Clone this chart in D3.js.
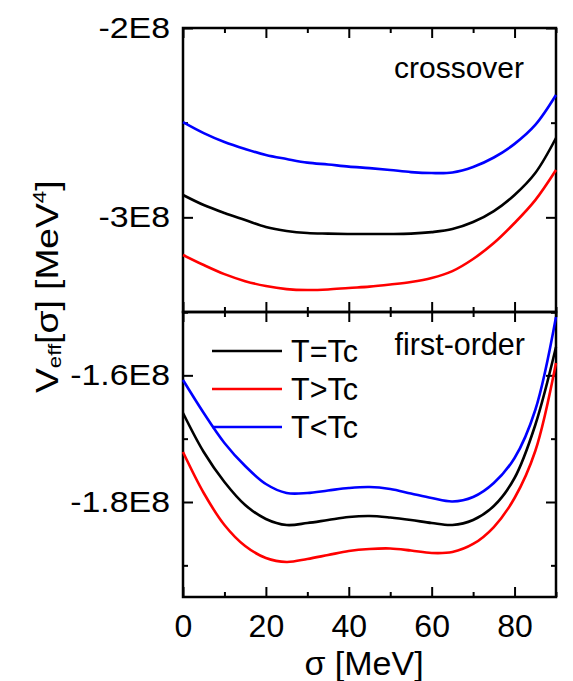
<!DOCTYPE html>
<html><head><meta charset="utf-8">
<script src="https://cdn.jsdelivr.net/npm/d3@7"></script>
<style>
html,body{margin:0;padding:0;background:#fff;}
svg text{font-family:"Liberation Sans",Arial,sans-serif;fill:#000;}
</style></head>
<body><svg id="c" width="573" height="681"></svg>
<script>
// ---- data (sigma in MeV, V_eff in MeV^4) ----
const sigma = [0,5,10,15,20,25,30,35,40,45,50,55,60,65,70,75,80,85,90];
const seriesNames = ["T=Tc","T>Tc","T<Tc"];
const seriesColors = ["#000000","#ff0000","#0000ff"];
// crossover panel
const crossTeqTc = [-2.882e8,-2.935e8,-2.977e8,-3.014e8,-3.051e8,-3.072e8,-3.083e8,-3.086e8,-3.088e8,-3.088e8,-3.088e8,-3.086e8,-3.078e8,-3.062e8,-3.025e8,-2.967e8,-2.882e8,-2.766e8,-2.581e8];
const crossTgtTc = [-3.199e8,-3.252e8,-3.300e8,-3.337e8,-3.363e8,-3.379e8,-3.384e8,-3.381e8,-3.373e8,-3.366e8,-3.355e8,-3.342e8,-3.321e8,-3.284e8,-3.220e8,-3.136e8,-3.030e8,-2.909e8,-2.750e8];
const crossTltTc = [-2.497e8,-2.555e8,-2.602e8,-2.639e8,-2.671e8,-2.692e8,-2.711e8,-2.721e8,-2.732e8,-2.740e8,-2.750e8,-2.761e8,-2.766e8,-2.763e8,-2.734e8,-2.684e8,-2.612e8,-2.512e8,-2.354e8];
// first-order panel
const firstTeqTc = [-1.6595e8,-1.7211e8,-1.7684e8,-1.8047e8,-1.8268e8,-1.8363e8,-1.8332e8,-1.8284e8,-1.8237e8,-1.8221e8,-1.8245e8,-1.8284e8,-1.8332e8,-1.8363e8,-1.8284e8,-1.8063e8,-1.7621e8,-1.6784e8,-1.5553e8];
const firstTgtTc = [-1.7211e8,-1.7858e8,-1.8363e8,-1.8695e8,-1.8884e8,-1.8947e8,-1.8900e8,-1.8837e8,-1.8774e8,-1.8742e8,-1.8734e8,-1.8766e8,-1.8805e8,-1.8789e8,-1.8663e8,-1.8395e8,-1.7937e8,-1.7195e8,-1.5805e8];
const firstTltTc = [-1.6074e8,-1.6595e8,-1.7068e8,-1.7432e8,-1.7716e8,-1.7858e8,-1.7858e8,-1.7818e8,-1.7779e8,-1.7763e8,-1.7795e8,-1.7866e8,-1.7937e8,-1.7992e8,-1.7921e8,-1.7700e8,-1.7305e8,-1.6547e8,-1.5079e8];
// axes
const xDomain = [0,90];
const xMajor = [0,20,40,60,80];
const xMinor = [10,30,50,70,90];
const crossDomain = [-3.5e8,-2e8];
const crossMajor = [-3e8,-2e8];
const crossMinor = [-3.5e8,-2.5e8];
const firstDomain = [-1.95e8,-1.5e8];
const firstMajor = [-1.8e8,-1.6e8];
const firstMinor = [-1.9e8,-1.7e8,-1.5e8];

const svg = d3.select("#c");
const L=183, R=556, T=28, M=312, B=597;
const x = d3.scaleLinear().domain(xDomain).range([L,R]);
const yTop = d3.scaleLinear().domain(crossDomain).range([M,T]);
const yBot = d3.scaleLinear().domain(firstDomain).range([B,M]);
const fmtE = v => (Math.round(v/1e7)/10) + "E8";
const MAJ=10, MIN=5;

function styleAxis(g, fs){ g.select(".domain").remove(); g.selectAll(".tick line").attr("stroke","#000").attr("stroke-width",2); g.selectAll("text").style("font-size",(fs||30)+"px").attr("fill","#000"); }
function stretch(g, k){
  g.selectAll("text").each(function(){ const w=this.getComputedTextLength(); if(w>0){ d3.select(this).attr("textLength",w*k).attr("lengthAdjust","spacingAndGlyphs"); } });
}

function panel(y, major, minor){
  svg.append("g").attr("transform",`translate(${L},0)`).call(d3.axisLeft(y).tickValues(major).tickSize(-MAJ).tickPadding(13).tickFormat(fmtE)).call(g=>styleAxis(g,30)).call(g=>stretch(g,1.13));
  svg.append("g").attr("transform",`translate(${L},0)`).call(d3.axisLeft(y).tickValues(minor).tickSize(-MIN).tickFormat("")).call(styleAxis);
  svg.append("g").attr("transform",`translate(${R},0)`).call(d3.axisRight(y).tickValues(major).tickSize(-MAJ).tickFormat("")).call(styleAxis);
  svg.append("g").attr("transform",`translate(${R},0)`).call(d3.axisRight(y).tickValues(minor).tickSize(-MIN).tickFormat("")).call(styleAxis);
}
panel(yTop, crossMajor, crossMinor);
panel(yBot, firstMajor, firstMinor);

function xTicks(ypos, dir, labels){
  const mk = () => (dir>0? d3.axisBottom(x) : d3.axisTop(x));
  svg.append("g").attr("transform",`translate(0,${ypos})`).call(mk().tickValues(xMajor).tickSize(-MAJ).tickPadding(labels?17:0).tickFormat(labels? d3.format("d") : "")).call(g=>styleAxis(g,32));
  svg.append("g").attr("transform",`translate(0,${ypos})`).call(mk().tickValues(xMinor).tickSize(-MIN).tickFormat("")).call(styleAxis);
}
xTicks(T, -1, false);
xTicks(M, 1, false);
xTicks(M, -1, false);
xTicks(B, 1, true);

// frames
svg.append("rect").attr("x",L).attr("y",T).attr("width",R-L).attr("height",M-T).attr("fill","none").attr("stroke","#000").attr("stroke-width",2.5);
svg.append("rect").attr("x",L).attr("y",M).attr("width",R-L).attr("height",B-M).attr("fill","none").attr("stroke","#000").attr("stroke-width",2.5);

// curves
const crossSeries = [crossTeqTc, crossTgtTc, crossTltTc];
const firstSeries = [firstTeqTc, firstTgtTc, firstTltTc];
function drawLines(series, y){
  const line = d3.line().x((d,i)=>x(sigma[i])).y(d=>y(d)).curve(d3.curveCatmullRom.alpha(0.5));
  series.forEach((s,k)=>{
    svg.append("path").datum(s).attr("d",line).attr("fill","none").attr("stroke",seriesColors[k]).attr("stroke-width",2.6);
  });
}
drawLines(crossSeries, yTop);
drawLines(firstSeries, yBot);

// panel labels
svg.append("text").attr("x",524).attr("y",78).attr("text-anchor","end").style("font-size","30px").text("crossover");
svg.append("text").attr("x",525).attr("y",355).attr("text-anchor","end").style("font-size","30.5px").text("first-order");

// legend
seriesNames.forEach((n,k)=>{
  const yy = 351 + k*38;
  svg.append("line").attr("x1",212).attr("x2",282).attr("y1",yy).attr("y2",yy).attr("stroke",seriesColors[k]).attr("stroke-width",2.6);
  svg.append("text").attr("x",291).attr("y",yy+11).style("font-size","30.5px").text(n);
});

// x label
svg.append("text").attr("x",364).attr("y",675).attr("text-anchor","middle").style("font-size","34px").text("σ [MeV]");

// y label
const yl = svg.append("text").attr("transform","translate(58,393) rotate(-90) scale(1.2,1)").style("font-size","31px");
yl.append("tspan").text("V");
yl.append("tspan").attr("dy",3).style("font-size","18.5px").text("eff");
yl.append("tspan").attr("dy",-3).text("[σ] [MeV");
yl.append("tspan").attr("dy",-12).style("font-size","18.5px").text("4");
yl.append("tspan").attr("dy",12).text("]");
</script></body></html>
